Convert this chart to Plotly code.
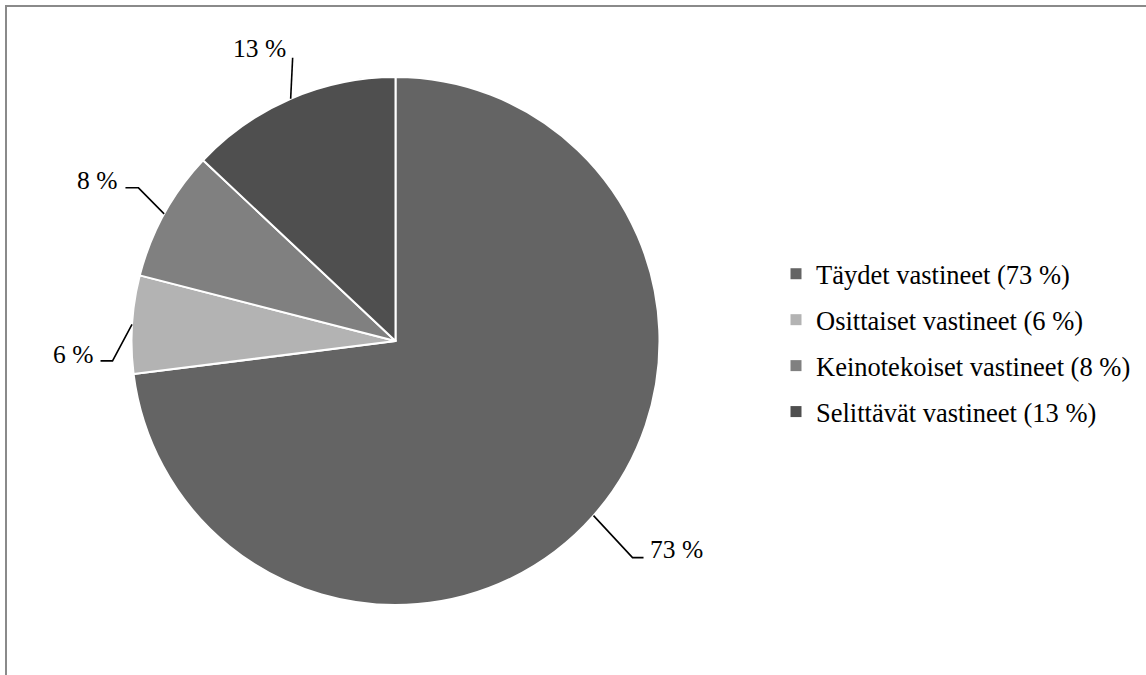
import math
import plotly.graph_objects as go

# ---- data ----
categories = ["Täydet vastineet", "Osittaiset vastineet", "Keinotekoiset vastineet", "Selittävät vastineet"]
values = [73, 6, 8, 13]
label_texts = [f"{v} %" for v in values]
legend_names = [f"{c} ({v} %)" for c, v in zip(categories, values)]

# ---- style / layout ----
W, H = 1146, 675
colors = ["#646464", "#b3b3b3", "#808080", "#4f4f4f"]
FONT = "Liberation Serif"
CX, CY, R = 395.5, 341, 264  # pie centre / radius in pixels (layout)

# leader offsets in pixels: (elbow dx, elbow dy, end dx, text side, text dx, text dy)
leader_layout = [
    (39, 42, 11, "left", 4, -8),
    (-19.5, 36.5, -12, "right", -6, -6),
    (-25.7, -26, -13, "right", -6, -7),
    (2, -41, 0, "right", -5, -9),
]

def px(x):
    return x / W

def py(y):
    return 1 - y / H

fig = go.Figure(go.Pie(
    labels=legend_names,
    values=values,
    sort=False,
    direction="clockwise",
    rotation=0,
    textinfo="none",
    hoverinfo="label+percent",
    marker=dict(colors=colors, line=dict(color="#ffffff", width=2)),
    domain=dict(x=[px(CX - R), px(CX + R)], y=[py(CY + R), py(CY - R)]),
    showlegend=False,
))

# legend entries (one per slice, each its own legend group for spacing)
for name, col in zip(legend_names, colors):
    fig.add_trace(go.Scatter(
        x=[None], y=[None], mode="markers", name=name, legendgroup=name,
        marker=dict(symbol="square", size=11, color=col),
        hoverinfo="skip", showlegend=True,
    ))

# leader lines + labels, positioned from the data (mid-angle of each slice)
total = sum(values)
cum = 0
shapes = []
annotations = []
for v, txt, lay in zip(values, label_texts, leader_layout):
    mid = (cum + v / 2) / total * 2 * math.pi
    cum += v
    ex = CX + R * math.sin(mid)
    ey = CY - R * math.cos(mid)
    odx, ody, endx, side, tdx, tdy = lay
    bx, by = ex + odx, ey + ody
    fx, fy = bx + endx, by
    path = f"M {px(ex)},{py(ey)} L {px(bx)},{py(by)} L {px(fx)},{py(fy)}"
    shapes.append(dict(type="path", xref="paper", yref="paper", path=path,
                       line=dict(color="#000000", width=1.6)))
    annotations.append(dict(
        x=px(fx + tdx), y=py(fy + tdy), xref="paper", yref="paper",
        text=txt, showarrow=False, xanchor=side, yanchor="middle",
        font=dict(family=FONT, size=25.5, color="#000000"),
    ))

# chart frame
shapes.append(dict(type="line", xref="paper", yref="paper",
                   x0=px(5), y0=py(6), x1=px(W + 5), y1=py(6),
                   line=dict(color="#8a8a8a", width=2)))
shapes.append(dict(type="line", xref="paper", yref="paper",
                   x0=px(6), y0=py(5), x1=px(6), y1=py(H + 5),
                   line=dict(color="#8a8a8a", width=2)))

fig.update_layout(
    width=W, height=H,
    margin=dict(l=0, r=0, t=0, b=0),
    paper_bgcolor="#ffffff",
    plot_bgcolor="#ffffff",
    xaxis=dict(visible=False),
    yaxis=dict(visible=False),
    shapes=shapes,
    annotations=annotations,
    legend=dict(
        x=px(776), y=py(343), xanchor="left", yanchor="middle",
        font=dict(family=FONT, size=26.5, color="#000000"),
        bgcolor="rgba(0,0,0,0)",
        tracegroupgap=8.5,
        traceorder="grouped",
    ),
)

fig.write_html("out.html")
